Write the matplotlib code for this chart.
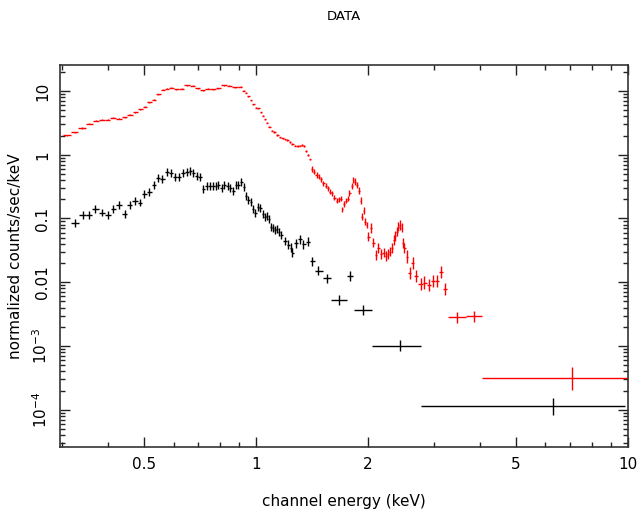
import numpy as np
import matplotlib
matplotlib.use('Agg')
import matplotlib.pyplot as plt
from matplotlib.ticker import FixedLocator, FixedFormatter, NullFormatter

# ---------------- data ----------------
red_E = [0.310,0.326,0.340,0.356,0.371,0.385,0.399,0.413,0.429,0.443,0.458,0.473,0.488,0.503,0.516,
         0.531,0.546,0.561,0.575,0.591,0.610,0.632,0.652,0.675,0.697,0.719,0.741,0.767,0.792,0.822,
         0.848,0.879,0.910,0.927,0.940,0.953,0.968,0.984,0.998,1.014,1.030,1.042,1.057,1.071,1.086,
         1.102,1.120,1.141,1.160,1.180,1.196,1.214,1.234,1.252,1.273,1.294,1.313,1.327,1.343,1.362,
         1.380,1.394,1.412,1.432,1.456,1.477,1.495,1.517,1.539,1.558,1.581,1.604,1.623,1.648,1.671,
         1.692,1.706,1.720,1.742,1.764,1.781,1.808,1.827,1.849,1.868,1.888,1.911,1.927,1.945,1.963,
         1.982,2.004,2.037,2.063,2.102,2.133,2.168,2.204,2.235,2.267,2.291,2.316,2.344,2.364,2.389,
         2.413,2.443,2.464,2.479,2.504,2.541,2.594,2.636,2.692,2.773,2.834,2.918,2.997,3.071,3.138,3.222]
red_y = [2.02,2.25,2.63,3.04,3.42,3.55,3.55,3.78,3.68,3.91,4.21,4.64,5.17,5.68,6.65,
         7.31,8.88,10.5,10.9,11.3,10.6,10.9,12.4,12.0,11.0,10.3,10.9,10.6,11.1,12.4,
         12.0,11.4,11.6,10.1,9.40,8.26,7.14,6.19,5.47,5.35,4.63,4.10,3.60,3.18,2.76,
         2.39,2.28,2.04,1.88,1.81,1.75,1.71,1.60,1.48,1.39,1.36,1.39,1.43,1.37,1.15,
         0.993,0.844,0.598,0.543,0.482,0.454,0.413,0.357,0.328,0.299,0.264,0.249,0.213,0.191,0.201,
         0.205,0.140,0.169,0.191,0.203,0.249,0.324,0.403,0.379,0.336,0.274,0.191,0.107,0.133,0.0893,
         0.0794,0.0520,0.0705,0.0419,0.0269,0.0342,0.0279,0.0292,0.0259,0.0279,0.0303,0.0342,0.0462,0.0534,0.0624,
         0.0747,0.0794,0.0720,0.0410,0.0342,0.0253,0.0139,0.0199,0.0127,0.00933,0.00989,0.00910,0.0105,0.0103,0.0144,0.0078]
# error bar half-size in dex, read in groups
red_dex = [0.008]*40 + [0.012]*22 + [0.04]*18 + [0.05]*11 + [0.075]*19 + [0.095]*11

red_wide_E = [3.477, 3.862, 7.06]
red_wide_lo = [3.275, 3.670, 4.05]
red_wide_hi = [3.670, 4.05, 12.0]
red_wide_y = [0.00282, 0.00292, 3.14e-4]
red_wide_dex = [0.09, 0.09, 0.18]

blk_E = [0.326,0.342,0.356,0.370,0.385,0.400,0.413,0.429,0.443,0.457,0.473,0.488,0.501,0.516,0.531,
         0.546,0.560,0.576,0.591,0.607,0.620,0.637,0.653,0.665,0.678,0.693,0.707,0.722,0.736,0.752,
         0.768,0.780,0.792,0.809,0.822,0.839,0.851,0.869,0.884,0.896,0.912,0.927,0.940,0.953,0.968,
         0.984,0.994,1.014,1.027,1.042,1.057,1.071,1.084,1.097,1.109,1.125,1.139,1.153,1.167,1.197,
         1.221,1.242,1.252,1.281,1.315,1.340,1.382,1.412,1.470,1.549]
blk_y = [0.0863,0.114,0.114,0.141,0.124,0.113,0.143,0.163,0.118,0.161,0.191,0.178,0.243,0.261,0.333,
         0.428,0.422,0.532,0.513,0.454,0.454,0.519,0.532,0.557,0.524,0.466,0.454,0.291,0.324,0.324,
         0.321,0.324,0.336,0.299,0.333,0.324,0.305,0.274,0.333,0.336,0.371,0.310,0.226,0.196,0.184,
         0.140,0.121,0.150,0.148,0.117,0.107,0.110,0.0975,0.0747,0.0705,0.0663,0.0680,0.0624,0.0553,0.0446,
         0.0386,0.0350,0.0292,0.0410,0.0474,0.0396,0.0435,0.0214,0.0152,0.0116]
blk_dex = [0.062]*60 + [0.07]*10

blk_wide_E = [1.671, 1.789, 1.935, 2.438, 6.28]
blk_wide_lo = [1.593, 1.76, 1.834, 2.051, 2.773]
blk_wide_hi = [1.753, 1.82, 2.047, 2.777, 9.82]
blk_wide_y = [0.0053, 0.0126, 0.00369, 0.00101, 1.13e-4]
blk_wide_dex = [0.083, 0.08, 0.08, 0.09, 0.136]

xtick_vals = [0.5, 1, 2, 5, 10]
xtick_labels = ['0.5', '1', '2', '5', '10']
ytick_vals = [1e-4, 1e-3, 1e-2, 1e-1, 1, 10]
ytick_labels = [r'$10^{-4}$', r'$10^{-3}$', '0.01', '0.1', '1', '10']


def dense_edges(E):
    E = np.asarray(E, float)
    le = np.log10(E)
    mids = 0.5 * (le[1:] + le[:-1])
    lo = np.concatenate([[le[0] - (mids[0] - le[0])], mids])
    hi = np.concatenate([mids, [le[-1] + (le[-1] - mids[-1])]])
    return 10**lo, 10**hi


def yerrs(y, dex):
    y = np.asarray(y, float)
    d = np.asarray(dex, float)
    return np.vstack([y - y * 10**(-d), y * 10**d - y])


def draw(ax, E, y, lo, hi, dex, color):
    E = np.asarray(E, float)
    xe = np.vstack([E - np.asarray(lo), np.asarray(hi) - E])
    ax.errorbar(E, y, xerr=xe, yerr=yerrs(y, dex), fmt='none',
                ecolor=color, elinewidth=1.0, capsize=0)


fig = plt.figure(figsize=(6.43, 5.18), dpi=100)
ax = fig.add_axes([60/643, 1-447/518, (628-60)/643, (447-65)/518])
ax.set_xscale('log')
ax.set_yscale('log')

rlo, rhi = dense_edges(red_E)
draw(ax, red_E, red_y, rlo, rhi, red_dex, 'red')
draw(ax, red_wide_E, red_wide_y, red_wide_lo, red_wide_hi, red_wide_dex, 'red')
blo, bhi = dense_edges(blk_E)
draw(ax, blk_E, blk_y, blo, bhi, blk_dex, 'black')
draw(ax, blk_wide_E, blk_wide_y, blk_wide_lo, blk_wide_hi, blk_wide_dex, 'black')

ax.set_xlim(0.297, 10.0)
ax.set_ylim(2.6e-5, 25.6)

ax.xaxis.set_major_locator(FixedLocator(xtick_vals))
ax.xaxis.set_major_formatter(FixedFormatter(xtick_labels))
xminor = [0.3, 0.4, 0.6, 0.7, 0.8, 0.9, 3, 4, 6, 7, 8, 9]
ax.xaxis.set_minor_locator(FixedLocator(xminor))
ax.xaxis.set_minor_formatter(NullFormatter())

ax.yaxis.set_major_locator(FixedLocator(ytick_vals))
ax.yaxis.set_major_formatter(FixedFormatter(ytick_labels))
yminor = [m * 10.0**k for k in range(-5, 2) for m in range(2, 10)]
ax.yaxis.set_minor_locator(FixedLocator(yminor))
ax.yaxis.set_minor_formatter(NullFormatter())

ax.tick_params(which='both', direction='in', top=True, right=True, color='#222222')
ax.tick_params(which='major', length=7, width=1.0, labelsize=11, pad=7)
ax.tick_params(which='minor', length=3.5, width=1.0)
for lab in ax.get_yticklabels():
    lab.set_rotation(90)
    lab.set_va('center')
for s in ax.spines.values():
    s.set_linewidth(1.2)
    s.set_color('#333333')

ax.set_xlabel('channel energy (keV)', fontsize=11, labelpad=16)
ax.set_ylabel('normalized counts/sec/keV', fontsize=11, labelpad=6)
fig.text((60+628)/2/643, 1-16/518, 'DATA', ha='center', va='center', fontsize=9.5)

fig.savefig('out.png', dpi=100)
